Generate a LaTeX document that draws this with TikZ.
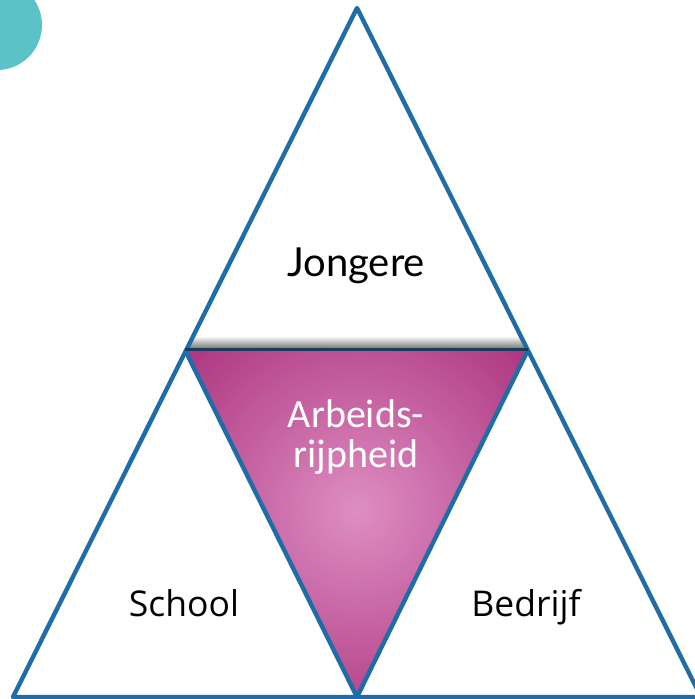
\documentclass[tikz,border=0pt]{standalone}
\usepackage{fontspec}
\setmainfont{Lato}
\newfontfamily\schoolfont{Open Sans}
\newfontfamily\arbeidfont{Carlito}
\definecolor{triblue}{HTML}{1F6DA8}
\definecolor{topedge}{HTML}{1B3A5C}
\definecolor{magdark}{HTML}{940A5F}
\definecolor{maglight}{HTML}{DE8EC2}
\definecolor{tealblob}{HTML}{5BC3C8}
\tikzset{
  edge/.style={draw=triblue, line width=4.4pt, line join=round},
  label/.style={font=\fontsize{40}{44}\selectfont, text=black, anchor=base},
  sidelabel/.style={font=\schoolfont\fontsize{35.5}{40}\selectfont, text=black, anchor=base},
}
\begin{document}
\begin{tikzpicture}[x=1pt, y=1pt]
  \useasboundingbox (0,0) rectangle (695,699);

  % corner blob
  \fill[tealblob] (-3,674) circle[radius=45];

  \coordinate (apex) at (357,691);
  \coordinate (left) at (13,2);
  \coordinate (right) at (701,2);
  \coordinate (midl) at (185,349);
  \coordinate (midr) at (528,349);
  \coordinate (midb) at (357,2);

  % middle triangle, shaded
  \begin{scope}
    \clip (midl) -- (midr) -- (midb) -- cycle;
    \shade[inner color=maglight, outer color=magdark] (357,189) circle[radius=350];
  \end{scope}

  % shadow over the top edge of the middle triangle
  \begin{scope}
    \clip (apex) -- (left) -- (right) -- cycle;
    \shade[top color=white, bottom color=black!60] (midl) rectangle ([yshift=14pt]midr);
  \end{scope}

  \draw[edge] (apex) -- (left) -- (right) -- cycle;
  \draw[edge] (midl) -- (midb) -- (midr);
  \draw[draw=topedge, line width=3pt] (midl) -- (midr);

  \node[label] (jongere) at (356,422) {Jongere};
  \node[sidelabel] (school) at (184,82) {School};
  \node[sidelabel] (bedrijf) at (526,82) {Bedrijf};
  \node[align=center, text=white, font=\arbeidfont\fontsize{40}{40}\selectfont] (arbeid) at (356,262) {Arbeids-\\rijpheid};
\end{tikzpicture}
\end{document}
